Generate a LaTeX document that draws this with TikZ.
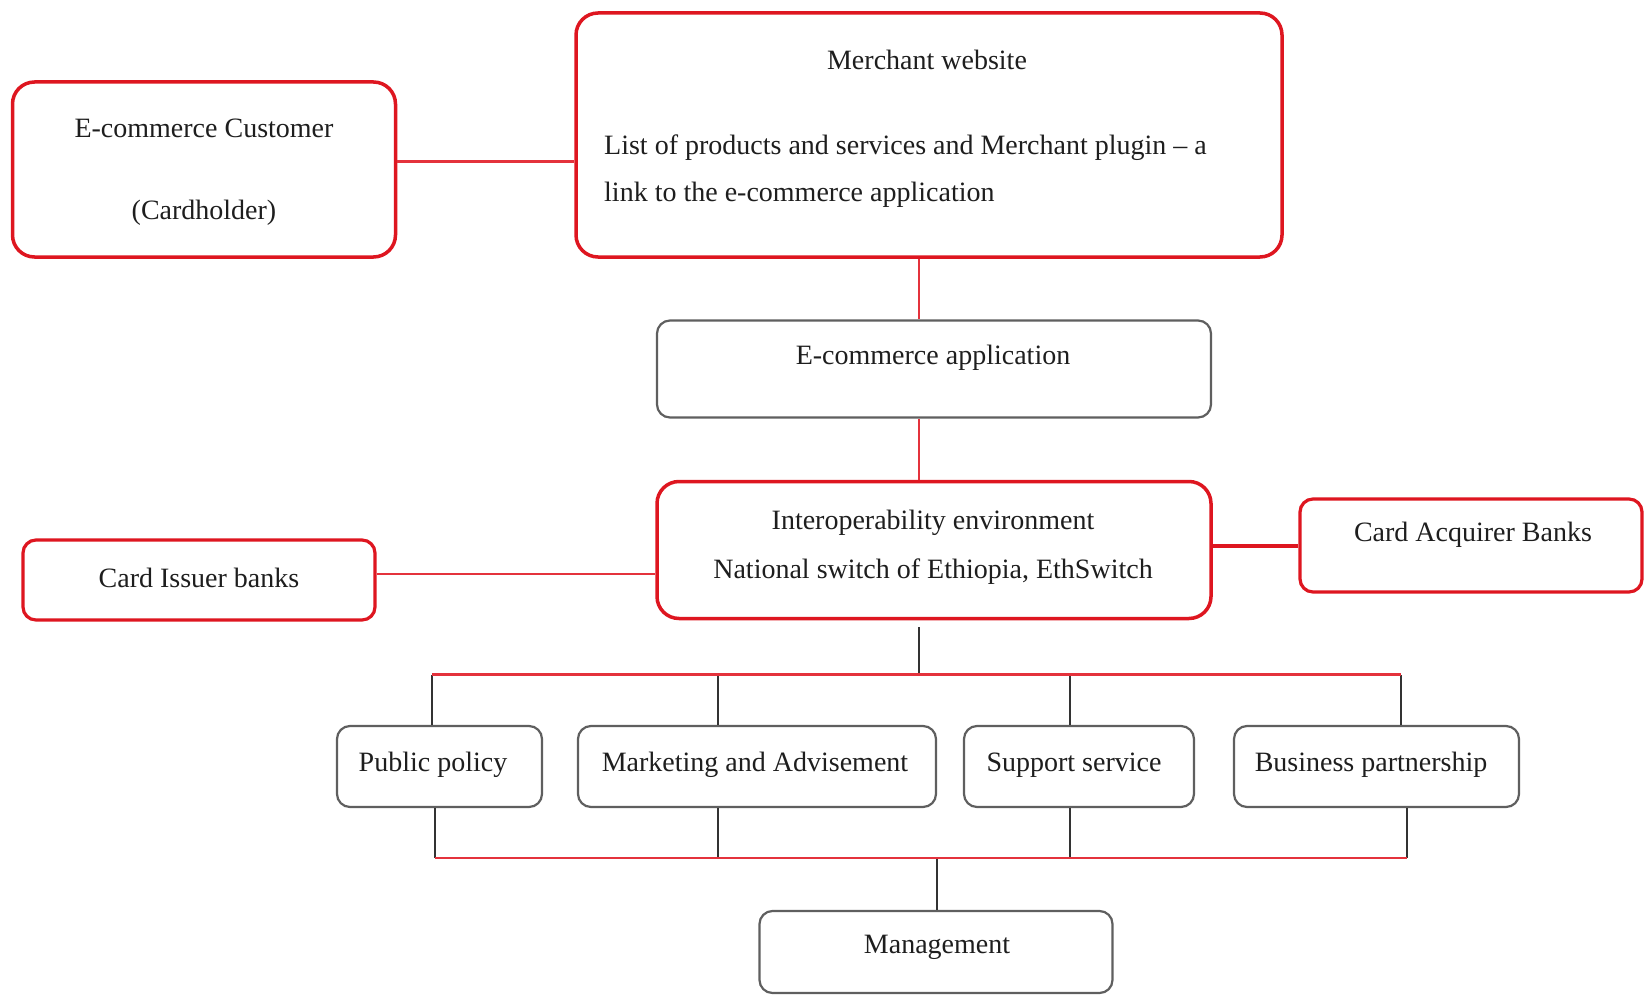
\documentclass[tikz,border=0pt]{standalone}
\usepackage{fontspec}
\setmainfont{Liberation Serif}
\definecolor{boxred}{RGB}{222,22,32}
\definecolor{linered}{RGB}{228,50,60}
\definecolor{boxgray}{RGB}{95,95,95}
\definecolor{txtcol}{RGB}{30,30,30}
\tikzset{
  redbox/.style={draw=boxred, line width=3.5pt, rounded corners=22pt, fill=white, inner sep=0pt},
  smallred/.style={draw=boxred, line width=3.2pt, rounded corners=13pt, fill=white, inner sep=0pt},
  graybox/.style={draw=boxgray, line width=2.2pt, rounded corners=13pt, fill=white, inner sep=0pt},
  txt/.style={font=\fontsize{28}{34}\selectfont, text=txtcol, inner sep=0pt},
  redline/.style={draw=linered, line width=2.6pt},
  thickred/.style={draw=boxred, line width=4pt},
  blackline/.style={draw=black!80, line width=2pt},
}
\begin{document}
\begin{tikzpicture}[x=1pt, y=-1pt]
\useasboundingbox (0,0) rectangle (1645,995);
% coordinates for trunks and buses
\coordinate (trunk) at (919,0);
\coordinate (topbus) at (0,674.5);
\coordinate (lowbus) at (0,858);
\coordinate (mgtrunk) at (937,0);

% boxes
\node[redbox, minimum width=383pt, minimum height=175pt] (cust) at (204,169.5) {};
\node[redbox, minimum width=706pt, minimum height=244pt] (merch) at (929,135) {};
\node[graybox, minimum width=554pt, minimum height=97pt] (app) at (934,369) {};
\node[redbox, minimum width=554pt, minimum height=137pt] (inter) at (934,550) {};
\node[smallred, minimum width=352pt, minimum height=80pt] (issuer) at (199,580) {};
\node[smallred, minimum width=342pt, minimum height=93pt] (acq) at (1471,545.5) {};
\node[graybox, minimum width=205pt, minimum height=81pt] (pp) at (439.5,766.5) {};
\node[graybox, minimum width=358pt, minimum height=81pt] (mkt) at (757,766.5) {};
\node[graybox, minimum width=230pt, minimum height=81pt] (sup) at (1079,766.5) {};
\node[graybox, minimum width=285pt, minimum height=81pt] (bus) at (1376.5,766.5) {};
\node[graybox, minimum width=353pt, minimum height=82pt] (mgmt) at (936,952) {};

% texts
\node[txt] (t1) at (204,128) {E-commerce Customer};
\node[txt] (t2) at (204,213) {(Cardholder)};
\node[txt] (t3) at (927,60) {Merchant website};
\node[txt, anchor=west] (t4) at (604,148) {List of products and services and Merchant plugin – a};
\node[txt, anchor=west] (t5) at (604,195) {link to the e-commerce application};
\node[txt] (t6) at (933,358) {E-commerce application};
\node[txt] (t7) at (933,522.5) {Interoperability environment};
\node[txt] (t8) at (933,572) {National switch of Ethiopia, EthSwitch};
\node[txt] (t9) at (199,578) {Card Issuer banks};
\node[txt] (t10) at (1473,535) {Card Acquirer Banks};
\node[txt] (t11) at (433,765) {Public policy};
\node[txt] (t12) at (755,765) {Marketing and Advisement};
\node[txt] (t13) at (1074,765) {Support service};
\node[txt] (t14) at (1371,765) {Business partnership};
\node[txt] (t15) at (937,947) {Management};

% connectors
\draw[redline] ([yshift=8pt]cust.east) -- ([yshift=8pt]cust.east -| merch.west);
\draw[redline] (merch.south -| trunk) -- (app.north -| trunk);
\draw[redline] (app.south -| trunk) -- (inter.north -| trunk);
\draw[redline] ([yshift=6pt]issuer.east) -- ([yshift=6pt]issuer.east -| inter.west);
\draw[thickred] (acq.west) -- (acq.west -| inter.east);

% to the top bus
\draw[blackline] ([yshift=-7pt]inter.south -| trunk) -- (trunk |- topbus);
\draw[blackline] ([xshift=-7.5pt]pp.north) -- ([xshift=-7.5pt]pp.north |- topbus);
\draw[blackline] ([xshift=-39.4pt]mkt.north) -- ([xshift=-39.4pt]mkt.north |- topbus);
\draw[blackline] ([xshift=-9pt]sup.north) -- ([xshift=-9pt]sup.north |- topbus);
\draw[blackline] ([xshift=24pt]bus.north) -- ([xshift=24pt]bus.north |- topbus);
\draw[redline] ([xshift=-7.5pt]pp.north |- topbus) -- ([xshift=24pt]bus.north |- topbus);

% to the lower bus
\draw[blackline] ([xshift=-4.5pt]pp.south) -- ([xshift=-4.5pt]pp.south |- lowbus);
\draw[blackline] ([xshift=-39.4pt]mkt.south) -- ([xshift=-39.4pt]mkt.south |- lowbus);
\draw[blackline] ([xshift=-9pt]sup.south) -- ([xshift=-9pt]sup.south |- lowbus);
\draw[blackline] ([xshift=30.5pt]bus.south) -- ([xshift=30.5pt]bus.south |- lowbus);
\draw[blackline] (mgtrunk |- lowbus) -- (mgmt.north -| mgtrunk);
\draw[redline] ([xshift=-4.5pt]pp.south |- lowbus) -- ([xshift=30.5pt]bus.south |- lowbus);
\end{tikzpicture}
\end{document}
